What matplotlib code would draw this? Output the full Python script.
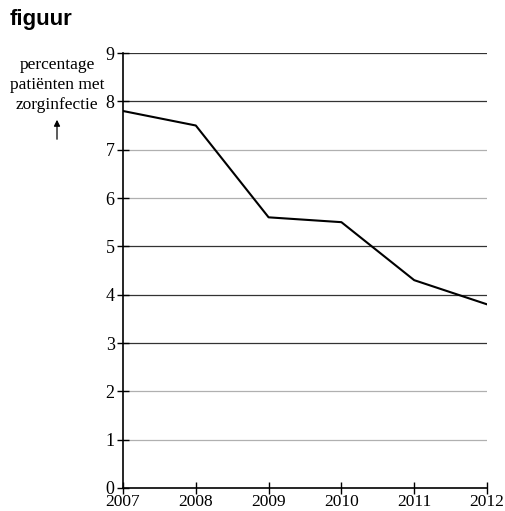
import matplotlib.pyplot as plt

years = [2007, 2008, 2009, 2010, 2011, 2012]
pct = [7.8, 7.5, 5.6, 5.5, 4.3, 3.8]
yticks = list(range(0, 10))
dark_lines = [3, 4, 5, 8, 9]
light_lines = [1, 2, 6, 7]

plt.rcParams['font.family'] = 'Liberation Serif'
fig = plt.figure(figsize=(5.05, 5.11), dpi=100)
ax = fig.add_axes([123 / 505, 1 - 488 / 511, 364 / 505, 435 / 511])

for y in dark_lines:
    ax.axhline(y, color='#333333', lw=0.9, zorder=1)
for y in light_lines:
    ax.axhline(y, color='#b0b0b0', lw=0.9, zorder=1)

ax.plot(years, pct, color='black', lw=1.5, zorder=3)

ax.set_xlim(2007, 2012)
ax.set_ylim(0, 9)
ax.set_xticks(years)
ax.set_yticks(yticks)
for s in ['top', 'right']:
    ax.spines[s].set_visible(False)
ax.spines['left'].set_linewidth(1.2)
ax.spines['bottom'].set_linewidth(1.2)
ax.tick_params(direction='inout', length=8, width=1, labelsize=13, pad=1)
ax.tick_params(axis='x', pad=0, labelsize=12.5)
ax.tick_params(axis='y', pad=2)

fig.text(10 / 505, 1 - 20 / 511, 'figuur', family='Liberation Sans', weight='bold',
         fontsize=16, va='center', ha='left')
fig.text(57 / 505, 1 - 85 / 511, 'percentage\npatiënten met\nzorginfectie',
         ha='center', va='center', fontsize=12.5, linespacing=1.3)
fig.patches.append(plt.matplotlib.patches.FancyArrowPatch(
    (57 / 505, 1 - 142 / 511), (57 / 505, 1 - 117 / 511),
    transform=fig.transFigure, arrowstyle='-|>', mutation_scale=9,
    color='black', lw=0.9))

fig.savefig('out.png', dpi=100)
